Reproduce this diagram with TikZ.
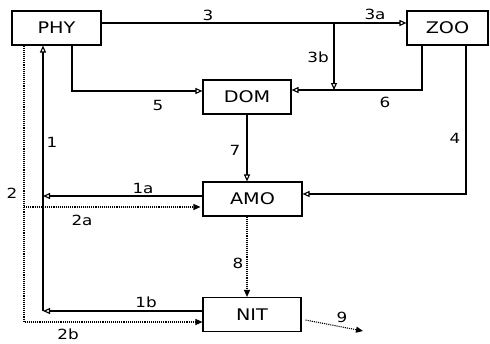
\documentclass[tikz,border=0pt]{standalone}
\usepackage{fontspec}
\setmainfont{DejaVu Sans}[FakeStretch=1.2]
\usetikzlibrary{arrows.meta,calc}

\begin{document}
\begin{tikzpicture}[x=1pt,y=-1pt,line width=1.1pt,
  box/.style={draw,minimum height=34pt,inner sep=0pt,font=\fontsize{16}{18}\selectfont},
  lbl/.style={inner sep=0pt,font=\fontsize{14}{16}\selectfont},
  flow/.style={-{Triangle[open,length=7pt,width=6pt]}},
  dot/.style={densely dotted,-{Triangle[length=7pt,width=6pt]}}]
  \useasboundingbox (0,0) rectangle (490,343);
  \node[box,minimum width=89pt] (phy) at (56.5,28) {PHY};
  \node[box,minimum width=81pt] (zoo) at (447.5,28) {ZOO};
  \node[box,minimum width=88pt] (dom) at (247,97) {DOM};
  \node[box,minimum width=99pt] (amo) at (252.5,199) {AMO};
  \node[box,minimum width=98pt] (nit) at (252,314.5) {NIT};
  \coordinate (j3) at (334,23); \coordinate (j6) at (334,90);
  \coordinate (bus) at (43,311); \coordinate (d2) at (24,322);
  \coordinate (d2a) at (24,207); \coordinate (e9) at (363,331);
  \coordinate (a1) at ([yshift=3pt]amo.west);
  % solid flows
  \draw[flow] ([yshift=5pt]phy.east) -- ([yshift=5pt]zoo.west);
  \draw[flow] (j3) -- (j6);
  \draw[flow] ([xshift=-25.5pt]zoo.south) |- ([yshift=7pt]dom.east);
  \draw[flow] ([xshift=15.5pt]phy.south) |- ([yshift=6pt]dom.west);
  \draw[flow] ([xshift=18.5pt]zoo.south) |- ([yshift=5pt]amo.east);
  \draw[flow] (dom.south) -- (dom.south |- amo.north);
  \draw[flow] (a1) -- (a1 -| bus);
  \draw[flow] (nit.west |- bus) -- (bus);
  \draw[flow] (bus) -- (bus |- phy.south);
  % dotted flows
  \draw[dot] ([xshift=-32.5pt]phy.south) |- (nit.west |- d2);
  \draw[dot,shorten >=2pt] (d2a) -- (d2a -| amo.west);
  \draw[dot] (amo.south -| dom.south) -- (nit.north -| dom.south);
  \draw[dot] ([shift={(4pt,-5.5pt)}]nit.east) -- (e9);
  % labels
  \node[lbl] (l3) at (208,15) {3};
  \node[lbl] (l3a) at (375,14) {3a};
  \node[lbl] (l3b) at (318,57) {3b};
  \node[lbl] (l6) at (385,102) {6};
  \node[lbl] (l5) at (158,105) {5};
  \node[lbl] (l4) at (455,138) {4};
  \node[lbl] (l7) at (235,150) {7};
  \node[lbl] (l1) at (52,142) {1};
  \node[lbl] (l1a) at (143,188) {1a};
  \node[lbl] (l2) at (12,193) {2};
  \node[lbl] (l2a) at (82,220) {2a};
  \node[lbl] (l8) at (238,263) {8};
  \node[lbl] (l1b) at (146,302) {1b};
  \node[lbl] (l2b) at (68,334) {2b};
  \node[lbl] (l9) at (342,317) {9};
\end{tikzpicture}
\end{document}
